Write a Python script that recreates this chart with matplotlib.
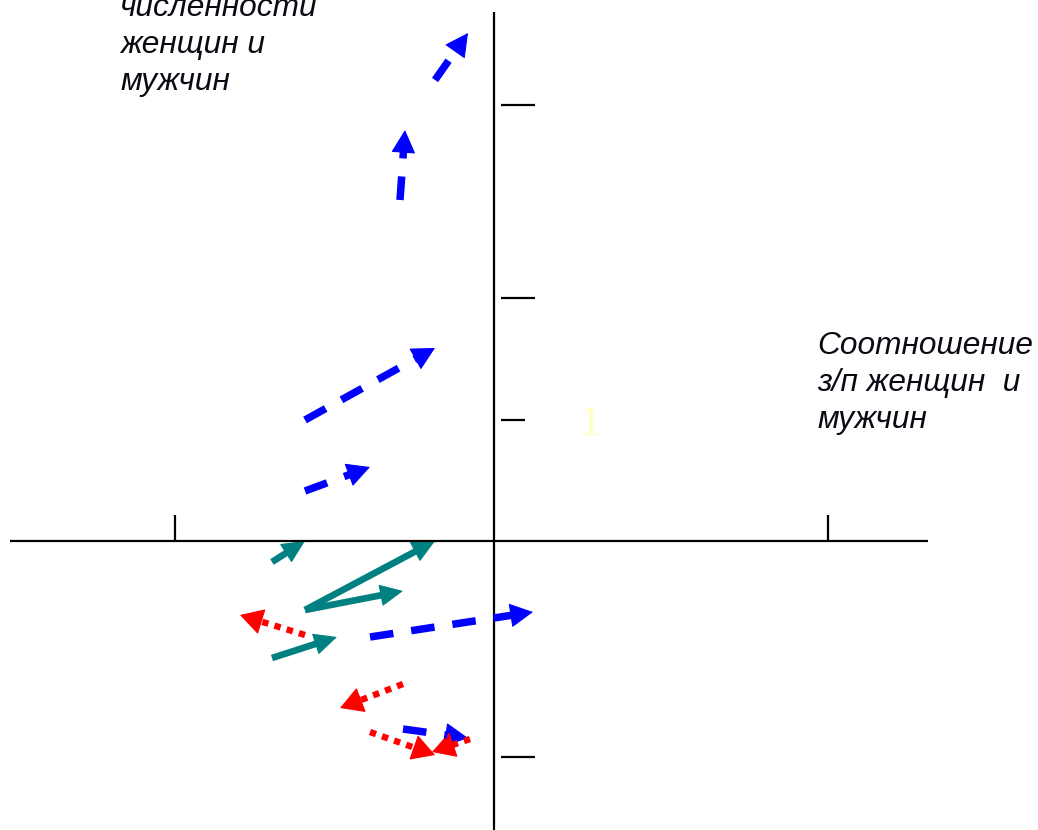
import numpy as np
import matplotlib
matplotlib.use("Agg")
import matplotlib.pyplot as plt
from matplotlib.patches import FancyArrowPatch

plt.rcParams['lines.scale_dashes'] = False

# ---- data (units: 1 = 100 px, origin at axes crossing) ----
blue_x0 = [-0.59, -0.94, -1.89, -1.89, -1.24, -0.91]
blue_y0 = [4.61, 3.41, 1.21, 0.50, -0.96, -1.88]
blue_x1 = [-0.26, -0.89, -0.59, -1.24, 0.39, -0.26]
blue_y1 = [5.08, 4.11, 1.93, 0.74, -0.71, -1.97]

teal_x0 = [-2.22, -1.89, -1.89, -2.22]
teal_y0 = [-0.21, -0.69, -0.69, -1.17]
teal_x1 = [-1.89, -0.59, -0.91, -1.57]
teal_y1 = [0.00, 0.00, -0.50, -0.96]

red_x0 = [-1.89, -0.91, -1.24, -0.24]
red_y0 = [-0.94, -1.43, -1.91, -1.98]
red_x1 = [-2.54, -1.54, -0.59, -0.62]
red_y1 = [-0.74, -1.67, -2.14, -2.11]

xticks = [-3.19, 3.34]
yticks = [4.36, 2.43, 1.21, -2.16]
ytick_len = [0.34, 0.34, 0.24, 0.34]

xlabel_lines = ["Соотношение", "з/п женщин  и", "мужчин"]
ylabel_lines = ["численности", "женщин и", "мужчин"]
one_label = "1"

# ---- figure ----
fig = plt.figure(figsize=(10.38, 8.30), dpi=100)
ax = fig.add_axes([0, 0, 1, 1])
ax.set_xlim(-4.94, 5.44)
ax.set_ylim(-2.89, 5.41)
ax.axis('off')

# axes lines
ax.plot([-4.84, 4.34], [0, 0], color='black', lw=1.6, solid_capstyle='butt')
ax.plot([0, 0], [-2.89, 5.29], color='black', lw=1.6, solid_capstyle='butt')
for xt in xticks:
    ax.plot([xt, xt], [0, 0.26], color='black', lw=1.6, solid_capstyle='butt')
for yt, ln in zip(yticks, ytick_len):
    ax.plot([0.07, 0.07 + ln], [yt, yt], color='black', lw=1.6, solid_capstyle='butt')


def draw_arrows(x0s, y0s, x1s, y1s, color, lw, ls, hl, hw):
    for x0, y0, x1, y1 in zip(x0s, y0s, x1s, y1s):
        d = np.array([x1 - x0, y1 - y0])
        L = np.hypot(*d)
        u = d / L
        base = np.array([x1, y1]) - u * hl
        ax.plot([x0, base[0]], [y0, base[1]], color=color, lw=lw, ls=ls,
                dash_capstyle='butt', solid_capstyle='butt')
        start = np.array([x1, y1]) - u * hl * 1.02
        p = FancyArrowPatch(tuple(start), (x1, y1),
                            arrowstyle=f"-|>,head_length={hl*72:.2f},head_width={hw*72:.2f}",
                            mutation_scale=1, color=color, lw=0.8,
                            shrinkA=0, shrinkB=0)
        ax.add_patch(p)


draw_arrows(blue_x0, blue_y0, blue_x1, blue_y1, '#0000FF', 5.4,
            (0, (17.0, 13.0)), 0.21, 0.11)
draw_arrows(teal_x0, teal_y0, teal_x1, teal_y1, '#008080', 4.8,
            '-', 0.21, 0.10)
draw_arrows(red_x0, red_y0, red_x1, red_y1, '#FF0000', 4.6,
            (0, (4.6, 4.6)), 0.21, 0.12)

font = dict(family='Liberation Sans', style='italic', fontsize=22.8, color='#0a0a14')
for i, t in enumerate(xlabel_lines):
    ax.text(3.23, 1.95 - i * 0.37, t, ha='left', va='center', **font)
for i, t in enumerate(ylabel_lines):
    ax.text(-3.74, 5.33 - i * 0.37, t, ha='left', va='center', **font)

ax.text(0.96, 1.16, one_label, family='Liberation Serif', fontsize=31,
        color='#FFFFC0', ha='center', va='center')

fig.savefig('out.png', dpi=100)
